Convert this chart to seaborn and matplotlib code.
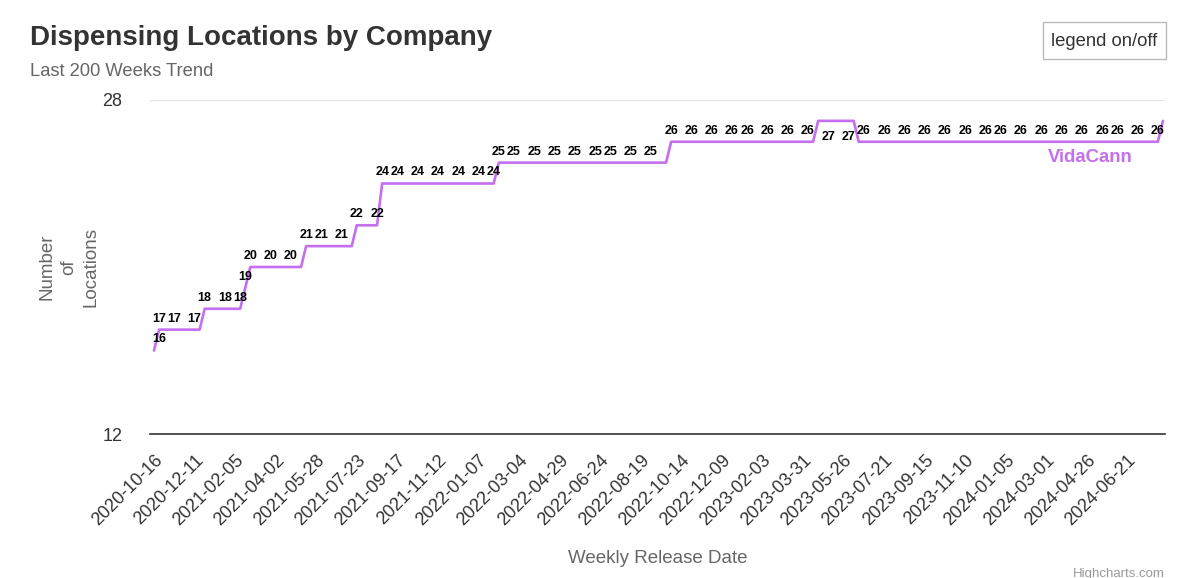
import matplotlib.pyplot as plt
import pandas as pd
import seaborn as sns
from matplotlib.patches import Rectangle

# weekly release dates (200 weeks)
weeks = pd.date_range('2020-10-16', '2024-08-09', freq='7D')

locations = [
    16, 17, 17, 17, 17, 17, 17, 17, 17, 17,
    18, 18, 18, 18, 18, 18, 18, 18, 19, 20,
    20, 20, 20, 20, 20, 20, 20, 20, 20, 20,
    21, 21, 21, 21, 21, 21, 21, 21, 21, 21,
    22, 22, 22, 22, 22, 24, 24, 24, 24, 24,
    24, 24, 24, 24, 24, 24, 24, 24, 24, 24,
    24, 24, 24, 24, 24, 24, 24, 24, 25, 25,
    25, 25, 25, 25, 25, 25, 25, 25, 25, 25,
    25, 25, 25, 25, 25, 25, 25, 25, 25, 25,
    25, 25, 25, 25, 25, 25, 25, 25, 25, 25,
    25, 25, 26, 26, 26, 26, 26, 26, 26, 26,
    26, 26, 26, 26, 26, 26, 26, 26, 26, 26,
    26, 26, 26, 26, 26, 26, 26, 26, 26, 26,
    26, 27, 27, 27, 27, 27, 27, 27, 27, 26,
    26, 26, 26, 26, 26, 26, 26, 26, 26, 26,
    26, 26, 26, 26, 26, 26, 26, 26, 26, 26,
    26, 26, 26, 26, 26, 26, 26, 26, 26, 26,
    26, 26, 26, 26, 26, 26, 26, 26, 26, 26,
    26, 26, 26, 26, 26, 26, 26, 26, 26, 26,
    26, 26, 26, 26, 26, 26, 26, 26, 26, 27,
]

tick_labels = [
    '2020-10-16', '2020-12-11', '2021-02-05', '2021-04-02', '2021-05-28',
    '2021-07-23', '2021-09-17', '2021-11-12', '2022-01-07', '2022-03-04',
    '2022-04-29', '2022-06-24', '2022-08-19', '2022-10-14', '2022-12-09',
    '2023-02-03', '2023-03-31', '2023-05-26', '2023-07-21', '2023-09-15',
    '2023-11-10', '2024-01-05', '2024-03-01', '2024-04-26', '2024-06-21',
]

# weeks whose data label is visible (others hidden by overlap)
label_weeks = [
    0, 1, 4, 8, 10, 14, 17, 18, 19, 23, 27, 30, 33, 37, 40, 44, 45, 48, 52,
    56, 60, 64, 67, 68, 71, 75, 79, 83, 87, 90, 94, 98, 102, 106, 110, 114,
    117, 121, 125, 129, 133, 137, 140, 144, 148, 152, 156, 160, 164, 167,
    171, 175, 179, 183, 187, 190, 194, 198,
]

df = pd.DataFrame({'date': weeks, 'locations': locations, 'company': 'VidaCann'})

purple = '#c46ef0'

sns.set_theme(style='white')
plt.rcParams['font.family'] = ['Liberation Sans', 'DejaVu Sans']

fig, ax = plt.subplots(figsize=(12, 5.78), dpi=100)
fig.subplots_adjust(left=0.125, right=0.9708, bottom=0.2491, top=0.827)

sns.lineplot(data=df, x='date', y='locations', color=purple, linewidth=1.9,
             legend=False, ax=ax)

for i in label_weeks:
    val = locations[i]
    dx = 3.6 if i == 0 else 0
    dy = -11.5 if val == 27 else 8
    ax.annotate(str(val), (weeks[i], val), xytext=(dx, dy), textcoords='offset points',
                ha='center', va='center', fontsize=9, fontweight='bold', color='black')

ax.set_xlim(weeks[0] - pd.Timedelta(days=5.5), weeks[-1] + pd.Timedelta(days=2.8))
ax.set_ylim(12, 28)
ax.set_yticks([12, 28])
ax.set_xticks(pd.to_datetime(tick_labels))
ax.set_xticklabels(tick_labels, rotation=45, ha='right', rotation_mode='anchor',
                   fontsize=13, color='#333333')
ax.tick_params(axis='x', length=0, pad=13)
ax.tick_params(axis='y', length=0, pad=20, labelsize=13, labelcolor='#333333')
ax.yaxis.grid(True, color='#e6e6e6', linewidth=1)
ax.xaxis.grid(False)
for spine in ['top', 'right', 'left']:
    ax.spines[spine].set_visible(False)
ax.spines['bottom'].set_color('#333333')
ax.spines['bottom'].set_linewidth(1.2)

ax.set_xlabel('Weekly Release Date', fontsize=13.5, color='#666666', labelpad=15)
ax.set_ylabel('')
fig.text(69 / 1200, 1 - 267 / 578, 'Number\nof\nLocations', rotation=90, ha='center',
         va='center', fontsize=13.5, color='#666666', linespacing=1.35)

ax.text(0.926, 0.829, 'VidaCann', transform=ax.transAxes, ha='center', va='center',
        fontsize=13.3, fontweight='bold', color=purple)

fig.text(30 / 1200, 1 - 45 / 578, 'Dispensing Locations by Company', ha='left',
         va='baseline', fontsize=20, fontweight='bold', color='#333333')
fig.text(30 / 1200, 1 - 76 / 578, 'Last 200 Weeks Trend', ha='left', va='baseline',
         fontsize=13.2, color='#666666')

# legend toggle button
fig.patches.append(Rectangle((1043 / 1200, 1 - 59 / 578), 123 / 1200, 37 / 578,
                             transform=fig.transFigure, facecolor='white',
                             edgecolor='#bbbbbb', linewidth=1))
fig.text(1104.5 / 1200, 1 - 41 / 578, 'legend on/off', ha='center', va='center',
         fontsize=13.3, color='#333333')

fig.text(1165 / 1200, 1 - 568 / 578, 'Highcharts.com', ha='right', va='top',
         fontsize=9.5, color='#999999')

fig.savefig('out.png', dpi=100)
